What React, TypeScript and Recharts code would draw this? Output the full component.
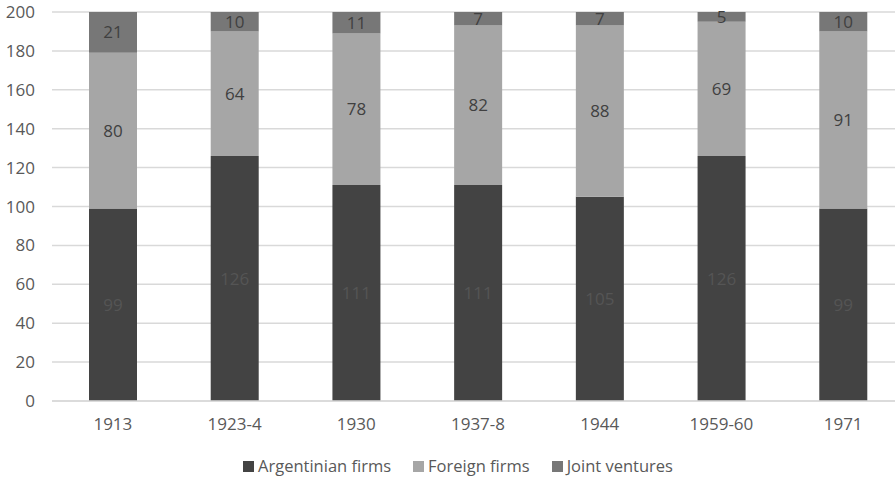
import { BarChart, Bar, XAxis, YAxis, CartesianGrid, LabelList } from 'recharts';

const periods = ['1913', '1923-4', '1930', '1937-8', '1944', '1959-60', '1971'];
const argentinian = [99, 126, 111, 111, 105, 126, 99];
const foreign = [80, 64, 78, 82, 88, 69, 91];
const joint = [21, 10, 11, 7, 7, 5, 10];
const yTicks = [0, 20, 40, 60, 80, 100, 120, 140, 160, 180, 200];

const data = periods.map((p, i) => ({
  period: p,
  argentinian: argentinian[i],
  foreign: foreign[i],
  joint: joint[i],
}));

const series = [
  { key: 'argentinian', name: 'Argentinian firms', color: '#434343', label: '#555555' },
  { key: 'foreign', name: 'Foreign firms', color: '#a6a6a6', label: '#404040' },
  { key: 'joint', name: 'Joint ventures', color: '#777777', label: '#404040' },
];

const FONT = '"Open Sans", Lato, sans-serif';

// legend drawn outside the svg so the plot area keeps its exact height
const ChartLegend = () => (
  <div
    style={{
      position: 'absolute',
      left: 0,
      top: 455,
      width: 916,
      display: 'flex',
      justifyContent: 'center',
      gap: 22,
      fontFamily: FONT,
      fontSize: 16.5,
      lineHeight: '22px',
      color: '#595959',
    }}
  >
    {series.map((s) => (
      <div key={s.key} style={{ display: 'flex', alignItems: 'center' }}>
        <span style={{ width: 11, height: 11, background: s.color, display: 'inline-block', marginRight: 4 }} />
        {s.name}
      </div>
    ))}
  </div>
);

export default function App() {
  return (
    <div style={{ position: 'absolute', left: 0, top: 0, width: 895, height: 481, overflow: 'hidden', background: '#fff' }}>
      <BarChart
        width={904}
        height={481}
        data={data}
        margin={{ top: 12, right: 0, left: 0, bottom: 40 }}
        barSize={48}
        style={{ fontFamily: FONT }}
      >
        <CartesianGrid vertical={false} stroke="#d9d9d9" strokeWidth={1.5} />
        <XAxis
          dataKey="period"
          axisLine={{ stroke: '#d9d9d9', strokeWidth: 1.5 }}
          tickLine={false}
          tickSize={0}
          tickMargin={17}
          height={40}
          tick={{ fill: '#595959', fontSize: 17 }}
        />
        <YAxis
          domain={[0, 200]}
          ticks={yTicks}
          axisLine={false}
          tickLine={false}
          tickSize={0}
          tickMargin={17}
          width={52}
          tick={{ fill: '#595959', fontSize: 17 }}
        />
        {series.map((s) => (
          <Bar key={s.key} dataKey={s.key} name={s.name} stackId="a" fill={s.color} isAnimationActive={false}>
            <LabelList dataKey={s.key} position="center" fill={s.label} fontSize={17} />
          </Bar>
        ))}
      </BarChart>
      <ChartLegend />
    </div>
  );
}
